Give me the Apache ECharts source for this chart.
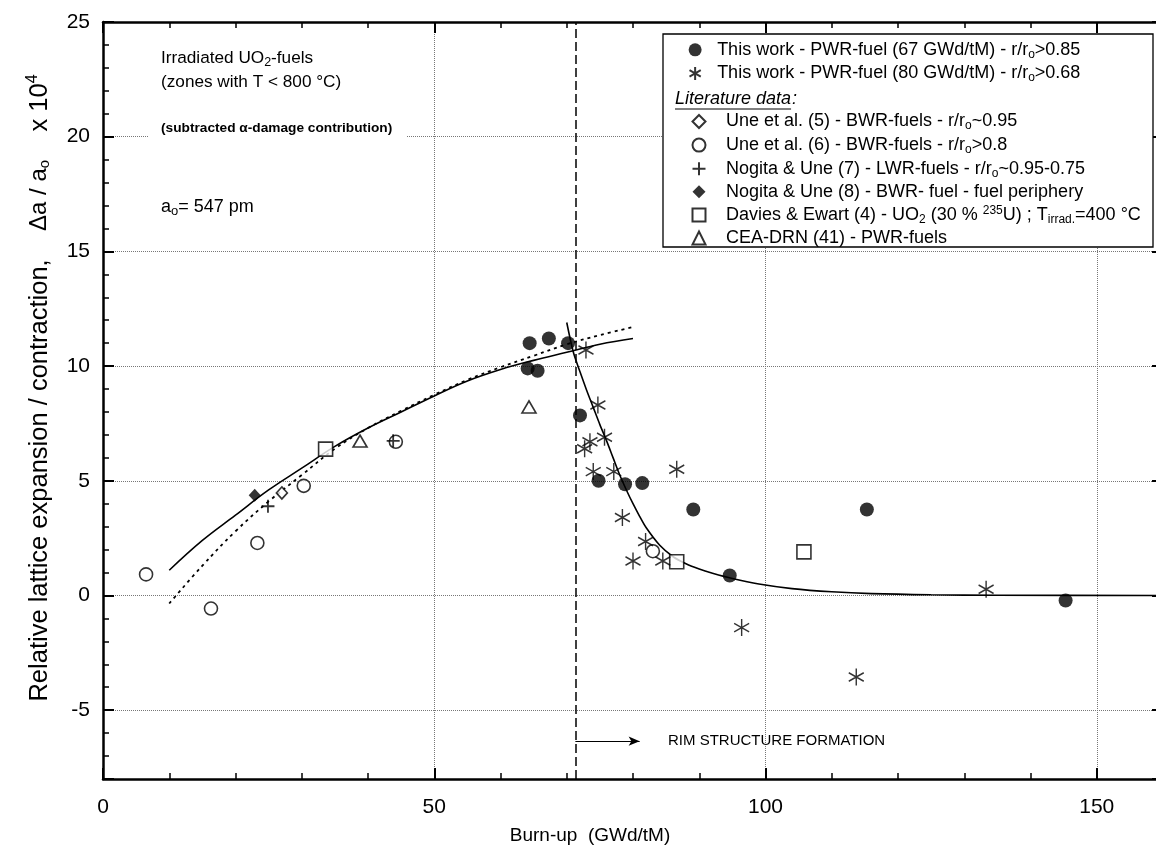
<!DOCTYPE html>
<html><head><meta charset="utf-8">
<script src="https://cdn.jsdelivr.net/npm/echarts@6/dist/echarts.min.js"></script>
<style>html,body{margin:0;padding:0;background:#fff}#c{width:1156px;height:861px}</style>
</head><body><div id="c"></div>
<script>
// ---- data ----
const xRange = [0, 160];
const yRange = [-8, 25];
const xTickLabels = [0, 50, 100, 150];
const yTickLabels = [-5, 0, 5, 10, 15, 20, 25];

const pwr67 = [[64.4,11.0],[67.3,11.2],[70.2,11.0],[64.1,9.9],[65.6,9.8],[72.0,7.85],[74.8,5.0],[78.8,4.85],[81.4,4.9],[89.1,3.75],[94.6,0.87],[115.3,3.75],[145.3,-0.22]];
const pwr80 = [[72.9,10.7],[74.7,8.3],[75.7,6.9],[73.5,6.7],[72.7,6.4],[74.0,5.4],[77.1,5.4],[86.6,5.5],[78.4,3.4],[81.9,2.35],[80.0,1.5],[84.5,1.5],[96.4,-1.4],[113.7,-3.55],[133.3,0.27]];
const une5 = [[27.0,4.47]];
const une6 = [[6.5,0.92],[16.3,-0.57],[23.3,2.29],[30.3,4.78],[44.2,6.7],[83.0,1.93]];
const nogita7 = [[24.9,3.89],[43.8,6.74]];
const nogita8 = [[22.9,4.37]];
const davies = [[33.6,6.38],[86.6,1.47],[105.8,1.9]];
const cea = [[38.8,6.73],[64.3,8.22]];

const fitRise = [[10,1.1],[15,2.4],[20,3.5],[25,4.6],[30,5.55],[35,6.5],[40,7.3],[45,8.0],[50,8.7],[55,9.35],[60,9.85],[65,10.25],[70,10.6],[75,10.95],[80,11.2]];
const fitRiseDotted = [[10,-0.35],[15,1.3],[20,2.8],[25,4.1],[30,5.25],[35,6.4],[40,7.3],[45,8.05],[50,8.75],[55,9.4],[60,9.95],[65,10.45],[70,10.95],[75,11.35],[80,11.7]];
const fitDecay = [[70,11.9],[71,10.6],[72,9.75],[73,8.95],[74,8.2],[75,7.45],[76,6.75],[77,6.0],[78,5.25],[79,4.6],[80,4.0],[81,3.45],[82,2.95],[84,2.2],[86,1.7],[88,1.38],[90,1.15],[92,0.97],[95,0.74],[99,0.5],[104,0.3],[110,0.16],[116,0.08],[125,0.03],[135,0.01],[160,0]];

const rimX = 71.3;
const rimArrow = [[71.3,-6.35],[81.0,-6.35]];

// ---- styling ----
const FONT = "'Liberation Sans', Arial, Helvetica, sans-serif";
const ASTER = 'path://M10,0 L10,20 M1.34,5 L18.66,15 M1.34,15 L18.66,5';
const PLUS = 'path://M0,6 L12,6 M6,0 L6,12';

function measure(text, font){
  const c = document.createElement('canvas').getContext('2d');
  c.font = font; return c.measureText(text).width;
}

function mkRich(gap){
  return {
    g: {width: gap, fontSize: 18, lineHeight: 20, fontFamily: FONT},
    sub: {fontSize: 12, lineHeight: 10, padding: [9,0,0,0], fontFamily: FONT, color:'#000'},
    sup: {fontSize: 12, lineHeight: 10, padding: [0,0,9,0], fontFamily: FONT, color:'#000'}
  };
}

const N1 = 'This work - PWR-fuel (67 GWd/tM) - r/ro>0.85';
const N2 = 'This work - PWR-fuel (80 GWd/tM) - r/ro>0.68';
const N3 = 'Une et al. (5) - BWR-fuels - r/ro~0.95';
const N4 = 'Une et al. (6) - BWR-fuels - r/ro>0.8';
const N5 = 'Nogita & Une (7) - LWR-fuels - r/ro~0.95-0.75';
const N6 = 'Nogita & Une (8) - BWR- fuel - fuel periphery';
const N7 = 'Davies & Ewart (4) - UO2 (30 % 235U) ; Tirrad.=400 °C';
const N8 = 'CEA-DRN (41) - PWR-fuels';
const richNames = {};
richNames[N1] = 'This work - PWR-fuel (67 GWd/tM) - r/r{sub|o}>0.85';
richNames[N2] = 'This work - PWR-fuel (80 GWd/tM) - r/r{sub|o}>0.68';
richNames[N3] = 'Une et al. (5) - BWR-fuels - r/r{sub|o}~0.95';
richNames[N4] = 'Une et al. (6) - BWR-fuels - r/r{sub|o}>0.8';
richNames[N5] = 'Nogita & Une (7) - LWR-fuels - r/r{sub|o}~0.95-0.75';
richNames[N6] = 'Nogita & Une (8) - BWR- fuel - fuel periphery';
richNames[N7] = 'Davies & Ewart (4) - UO{sub|2} (30 % {sup|235}U) ; T{sub|irrad.}=400 °C';
richNames[N8] = 'CEA-DRN (41) - PWR-fuels';

const open = {color:'#fff', borderColor:'#000', borderWidth:1.6};
function scatter(name, data, symbol, size, itemStyle, z){
  return {name, type:'scatter', data, symbol, symbolSize:size, itemStyle, z: z||5, xAxisIndex:0, yAxisIndex:0};
}

const axisLineStyle = {color:'#000', width:2.5};
const gridBox = {left:103, top:22, right:-7, bottom:82, containLabel:false, outerBoundsMode:'none'};

const litFont = 'italic 18px ' + FONT;
const litW = measure('Literature data', litFont);

const chart = echarts.init(document.getElementById('c'));
chart.setOption({
  backgroundColor:'#fff',
  animation:false,
  grid:[Object.assign({}, gridBox), Object.assign({}, gridBox)],
  xAxis:[
    {gridIndex:0, type:'value', position:'bottom', min:xRange[0], max:xRange[1], interval:50,
     axisLine:{show:true, onZero:false, lineStyle:axisLineStyle},
     axisTick:{show:true, inside:true, length:11, lineStyle:{color:'#000', width:2}},
     axisLabel:{margin:18, fontSize:21, color:'#000', fontFamily:FONT,
       formatter: v => xTickLabels.indexOf(v) >= 0 ? String(v) : ''},
     splitLine:{show:true, lineStyle:{type:'dotted', color:'#777', width:1}},
     name:'Burn-up  (GWd/tM)', nameLocation:'middle', nameGap:47,
     nameTextStyle:{fontSize:19, color:'#000', fontFamily:FONT, padding:[0,86,0,0]}},
    {gridIndex:0, type:'value', position:'top', min:xRange[0], max:xRange[1], interval:50,
     axisLine:{show:true, onZero:false, lineStyle:axisLineStyle},
     axisTick:{show:true, inside:true, length:11, lineStyle:{color:'#000', width:2}},
     axisLabel:{show:false}, splitLine:{show:false}},
    {gridIndex:1, type:'value', position:'bottom', min:xRange[0], max:xRange[1], interval:10,
     axisLine:{show:false, onZero:false}, axisTick:{show:true, inside:true, length:6, lineStyle:{color:'#000', width:1.5}},
     axisLabel:{show:false}, splitLine:{show:false}},
    {gridIndex:1, type:'value', position:'top', min:xRange[0], max:xRange[1], interval:10,
     axisLine:{show:false, onZero:false}, axisTick:{show:true, inside:true, length:6, lineStyle:{color:'#000', width:1.5}},
     axisLabel:{show:false}, splitLine:{show:false}}
  ],
  yAxis:[
    {gridIndex:0, type:'value', position:'left', min:yRange[0], max:yRange[1], splitNumber:7,
     axisLine:{show:true, onZero:false, lineStyle:axisLineStyle},
     axisTick:{show:true, inside:true, length:11, lineStyle:{color:'#000', width:2}},
     axisLabel:{margin:13, fontSize:21, color:'#000', fontFamily:FONT,
       formatter: v => yTickLabels.indexOf(v) >= 0 ? String(v) : ''},
     splitLine:{show:true, lineStyle:{type:'dotted', color:'#777', width:1}},
     name:'Relative lattice expansion / contraction,    {s|Δa / a}{sub|o}    x 10{sup|4}',
     nameLocation:'middle', nameGap:49,
     nameTextStyle:{fontSize:25.5, color:'#000', fontFamily:FONT, padding:[0,0,0,25],
       rich:{s:{fontSize:24, fontFamily:FONT, color:'#000'}, sub:{fontSize:15, padding:[11,0,0,0], fontFamily:FONT, color:'#000'}, sup:{fontSize:16, padding:[0,0,13,0], fontFamily:FONT, color:'#000'}}}},
    {gridIndex:0, type:'value', position:'right', min:yRange[0], max:yRange[1], splitNumber:7,
     axisLine:{show:true, onZero:false, lineStyle:axisLineStyle},
     axisTick:{show:true, inside:true, length:11, lineStyle:{color:'#000', width:2}},
     axisLabel:{show:false}, splitLine:{show:false}},
    {gridIndex:1, type:'value', position:'left', min:yRange[0], max:yRange[1], interval:1,
     axisLine:{show:false, onZero:false}, axisTick:{show:true, inside:true, length:6, lineStyle:{color:'#000', width:1.5}},
     axisLabel:{show:false}, splitLine:{show:false}},
    {gridIndex:1, type:'value', position:'right', min:yRange[0], max:yRange[1], interval:1,
     axisLine:{show:false, onZero:false}, axisTick:{show:true, inside:true, length:6, lineStyle:{color:'#000', width:1.5}},
     axisLabel:{show:false}, splitLine:{show:false}}
  ],
  legend:[
    {data:[N1, N2], orient:'vertical', left:688.5, top:39.3, padding:0, itemWidth:13, itemHeight:13, itemGap:2.6,
     selectedMode:false,
     textStyle:{fontSize:18, lineHeight:20, color:'#000', fontFamily:FONT, rich:mkRich(10.5)},
     formatter: n => '{g| }' + richNames[n]},
    {data:[N3, N4, N5, N6, N7, N8], orient:'vertical', left:691.5, top:111, padding:0, itemWidth:13, itemHeight:13, itemGap:2.6,
     selectedMode:false,
     textStyle:{fontSize:18, lineHeight:20, color:'#000', fontFamily:FONT, rich:mkRich(15.5)},
     formatter: n => '{g| }' + richNames[n]}
  ],
  graphic:[
    {type:'rect', z:1, shape:{x:148, y:36, width:258, height:196}, style:{fill:'#fff', stroke:null}},
    {type:'rect', z:1, shape:{x:663, y:34, width:490, height:213}, style:{fill:'#fff', stroke:'#000', lineWidth:1.3}},
    {type:'text', z:10, x:675, y:99, style:{text:'Literature data', font:litFont, fill:'#000', verticalAlign:'middle'}},
    {type:'text', z:10, x:675 + litW + 1, y:99, style:{text:':', font:litFont, fill:'#000', verticalAlign:'middle'}},
    {type:'line', z:10, shape:{x1:675, y1:109, x2:675 + litW, y2:109}, style:{stroke:'#000', lineWidth:1}},
    {type:'text', z:10, x:161, y:58, style:{text:'Irradiated UO{sub|2}-fuels', fontSize:17.2, fontFamily:FONT, fill:'#000', verticalAlign:'middle',
      rich:{sub:{fontSize:12.5, padding:[9,0,0,0], fontFamily:FONT}}}},
    {type:'text', z:10, x:161, y:82, style:{text:'(zones with T < 800 °C)', fontSize:17.2, fontFamily:FONT, fill:'#000', verticalAlign:'middle'}},
    {type:'text', z:10, x:161, y:128, style:{text:'(subtracted α-damage contribution)', fontSize:13.7, fontWeight:'bold', fontFamily:FONT, fill:'#000', verticalAlign:'middle'}},
    {type:'text', z:10, x:161, y:207, style:{text:'a{sub|o}= 547 pm', fontSize:18, fontFamily:FONT, fill:'#000', verticalAlign:'middle',
      rich:{sub:{fontSize:13, padding:[9,0,0,0], fontFamily:FONT}}}},
    {type:'text', z:10, x:668, y:741, style:{text:'RIM STRUCTURE FORMATION', fontSize:15, fontFamily:FONT, fill:'#000', verticalAlign:'middle'}}
  ],
  series:[
    {name:'fitRise', type:'line', data:fitRise, smooth:0.4, symbol:'none', z:3, lineStyle:{color:'#000', width:1.6}},
    {name:'fitRiseDotted', type:'line', data:fitRiseDotted, smooth:0.4, symbol:'none', z:3, lineStyle:{color:'#000', width:1.8, type:[3,4]}},
    {name:'fitDecay', type:'line', data:fitDecay, smooth:0.3, symbol:'none', z:3, lineStyle:{color:'#000', width:1.6},
     markLine:{silent:true, animation:false, label:{show:false},
       data:[
         [{coord:[rimX, yRange[0]], symbol:'none'}, {coord:[rimX, yRange[1]], symbol:'none', lineStyle:{color:'#000', width:1.5, type:[9,4]}}],
         [{coord:rimArrow[0], symbol:'none'}, {coord:rimArrow[1], symbol:'arrow', symbolSize:[7,11], lineStyle:{color:'#000', width:1, type:'solid'}}]
       ],
       lineStyle:{color:'#000', width:1.5, type:[9,4]}}},
    scatter(N1, pwr67, 'circle', 14, {color:'#000'}, 6),
    scatter(N2, pwr80, ASTER, [15,17], {color:'#000', borderColor:'#000', borderWidth:1.5}, 6),
    scatter(N3, une5, 'diamond', [11,12], open, 5),
    scatter(N4, une6, 'circle', 13, open, 5),
    scatter(N5, nogita7, PLUS, 13, {color:'#000', borderColor:'#000', borderWidth:1.8}, 7),
    scatter(N6, nogita8, 'diamond', [12,13], {color:'#000'}, 5),
    scatter(N7, davies, 'rect', 14, open, 5),
    scatter(N8, cea, 'triangle', [14,12], open, 5)
  ]
});
</script></body></html>
